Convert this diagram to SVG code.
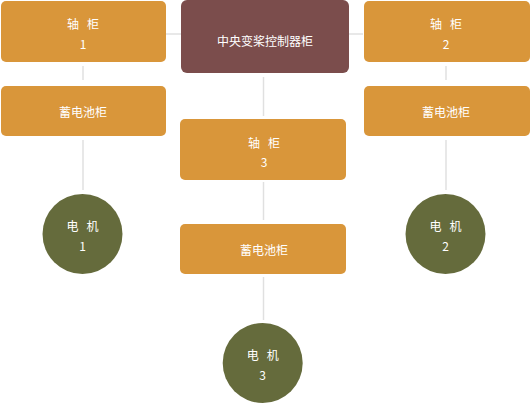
<svg xmlns="http://www.w3.org/2000/svg" width="530" height="404" viewBox="0 0 530 404">
<style>
.box{fill:#D9963A}
.ctrl{fill:#7B4D4C}
.motor{fill:#656B3C}
.t{fill:#FFFFFF;font-family:"Noto Sans CJK SC","Noto Sans",sans-serif;font-size:12px;text-anchor:middle;dominant-baseline:central}
.c{stroke:#E0E0E0;stroke-width:1.5;fill:none}
</style>
<rect width="530" height="404" fill="#FFFFFF"/>
<g id="connectors">
<line class="c" x1="166" y1="34" x2="181" y2="34"/>
<line class="c" x1="349" y1="34" x2="363" y2="34"/>
<line class="c" x1="83" y1="66" x2="83" y2="80"/>
<line class="c" x1="446" y1="66" x2="446" y2="80"/>
<line class="c" x1="83" y1="140" x2="83" y2="190"/>
<line class="c" x1="446" y1="140" x2="446" y2="190"/>
<line class="c" x1="263.5" y1="77" x2="263.5" y2="116"/>
<line class="c" x1="263.5" y1="182" x2="263.5" y2="220"/>
<line class="c" x1="263.5" y1="277" x2="263.5" y2="320"/>
</g>
<g id="ctrl">
<rect class="ctrl" x="181" y="0" width="168" height="73" rx="6"/>
<text class="t" x="265" y="40">中央变桨控制器柜</text>
</g>
<g id="axis1">
<rect class="box" x="1" y="1" width="165" height="61" rx="5"/>
<text class="t" x="83" y="23" xml:space="preserve">轴   柜</text>
<text class="t" x="83" y="43">1</text>
</g>
<g id="axis2">
<rect class="box" x="364" y="1" width="166" height="61" rx="5"/>
<text class="t" x="446" y="23" xml:space="preserve">轴   柜</text>
<text class="t" x="446" y="43">2</text>
</g>
<g id="battery1">
<rect class="box" x="1" y="86" width="165" height="50" rx="5"/>
<text class="t" x="83" y="111">蓄电池柜</text>
</g>
<g id="battery2">
<rect class="box" x="364" y="86" width="166" height="50" rx="5"/>
<text class="t" x="446" y="111">蓄电池柜</text>
</g>
<g id="axis3">
<rect class="box" x="180" y="119" width="166" height="61" rx="5"/>
<text class="t" x="264" y="142" xml:space="preserve">轴   柜</text>
<text class="t" x="264" y="161">3</text>
</g>
<g id="battery3">
<rect class="box" x="180" y="224" width="166" height="50" rx="5"/>
<text class="t" x="264" y="249">蓄电池柜</text>
</g>
<g id="motor1">
<circle class="motor" cx="82.5" cy="234" r="40"/>
<text class="t" x="82.5" y="225" xml:space="preserve">电   机</text>
<text class="t" x="82.5" y="245">1</text>
</g>
<g id="motor2">
<circle class="motor" cx="445.5" cy="234" r="40"/>
<text class="t" x="445.5" y="225" xml:space="preserve">电   机</text>
<text class="t" x="445.5" y="245">2</text>
</g>
<g id="motor3">
<circle class="motor" cx="262.7" cy="363" r="40"/>
<text class="t" x="262.7" y="354" xml:space="preserve">电   机</text>
<text class="t" x="262.7" y="374">3</text>
</g>
</svg>
